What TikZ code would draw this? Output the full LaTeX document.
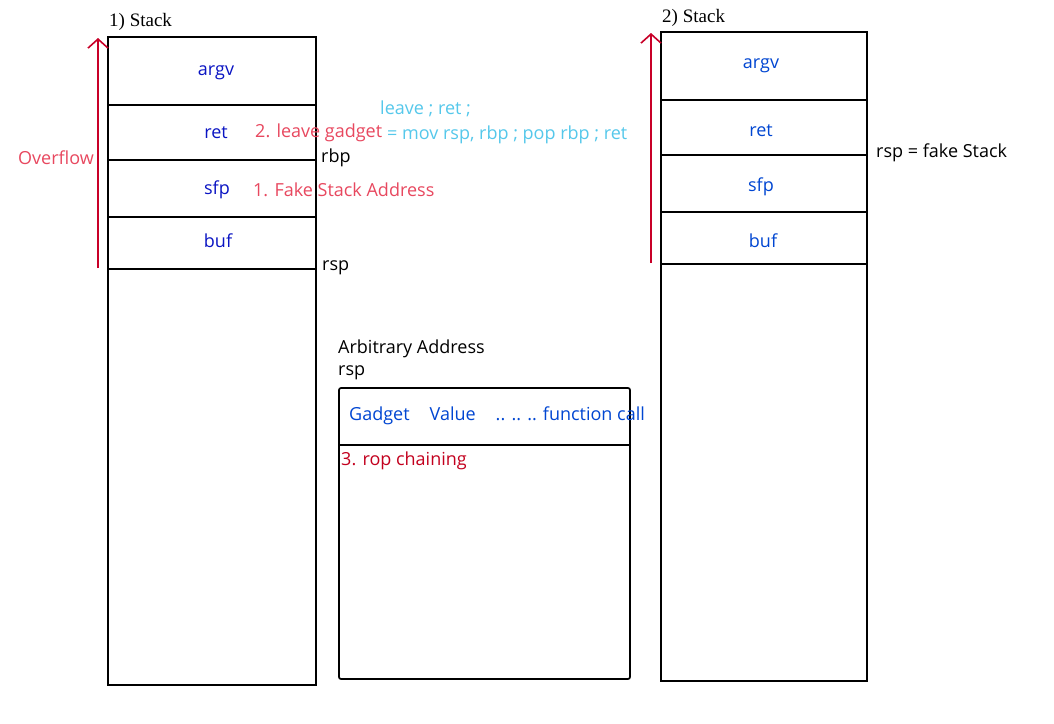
\documentclass[tikz,border=0pt]{standalone}
\usepackage{fontspec}
\usetikzlibrary{arrows.meta}
\newfontfamily\hand{Open Sans}
\newfontfamily\titlefont{Liberation Serif}
\definecolor{lblue}{RGB}{10,20,195}
\definecolor{rblue}{RGB}{0,70,210}
\definecolor{pinkred}{RGB}{232,72,95}
\definecolor{cyanish}{RGB}{85,200,235}
\definecolor{arrred}{RGB}{200,0,40}
\definecolor{ropred}{RGB}{195,0,30}
\tikzset{
  stackbox/.style={draw=black, line width=1.7pt},
  sepline/.style={draw=black, line width=1.7pt},
  lbl/.style={font=\hand\fontsize{18}{20}\selectfont, inner sep=0pt},
  blbl/.style={lbl, text=lblue},
  rlbl/.style={lbl, text=rblue},
  notelbl/.style={lbl, text=pinkred, anchor=west},
  asmlbl/.style={lbl, text=cyanish, anchor=west},
  plainlbl/.style={lbl, text=black, anchor=west},
  titlelbl/.style={font=\titlefont\fontsize{19}{21}\selectfont, inner sep=0pt, anchor=west},
  overflowarrow/.style={draw=arrred, line width=1.6pt, -{Straight Barb[length=9pt,width=20pt,line width=1.6pt]}}
}
\begin{document}
\begin{tikzpicture}[x=1pt,y=-1pt]
\useasboundingbox[fill=white] (0,0) rectangle (1054,723);

% ---- Stack 1 ----
\node[titlelbl] (t1) at (109,22) {1) Stack};
\draw[stackbox] (108,37) rectangle (316,685);
\draw[sepline] (108,105) -- (316,105);
\draw[sepline] (108,160) -- (316,160);
\draw[sepline] (108,217) -- (316,217);
\draw[sepline] (108,269) -- (316,269);
\node[blbl] (a1) at (216,73) {argv};
\node[blbl] (r1) at (216,133) {ret};
\node[blbl] (s1) at (217,190) {sfp};
\node[blbl] (b1) at (218,241) {buf};
\coordinate (o1s) at (98,268);
\coordinate (o1e) at (98,38);
\draw[overflowarrow] (o1s) -- (o1e);
\node[lbl, text=pinkred] (ov) at (56,158) {Overflow};
\node[notelbl] (lg) at (255,133) {2. leave gadget};
\node[notelbl] (fs) at (253,190) {1. Fake Stack Address};
\node[plainlbl] (rbp) at (321,158) {rbp};
\node[plainlbl] (rsp1) at (322,268) {rsp};
\node[asmlbl] (lr) at (380,109) {leave ; ret ;};
\node[asmlbl] (mv) at (387,135) {= mov rsp, rbp ; pop rbp ; ret};

% ---- Arbitrary address box ----
\node[plainlbl] (aa) at (338,349) {Arbitrary Address};
\node[plainlbl] (rsp2) at (338,373) {rsp};
\draw[stackbox, rounded corners=2pt] (339,388) rectangle (630,679);
\draw[sepline] (339,445) -- (630,445);
\node[lbl, text=rblue, anchor=west] (gv) at (349,416) {Gadget\hspace{20pt}Value\hspace{20pt}.. .. ..\hspace{6pt}function call};
\node[lbl, text=ropred, anchor=west] (rop) at (341,461) {3. rop chaining};

% ---- Stack 2 ----
\node[titlelbl] (t2) at (662,18) {2) Stack};
\draw[stackbox] (661,32) rectangle (867,681);
\draw[sepline] (661,100) -- (867,100);
\draw[sepline] (661,155) -- (867,155);
\draw[sepline] (661,212) -- (867,212);
\draw[sepline] (661,264) -- (867,264);
\node[rlbl] (a2) at (761,66) {argv};
\node[rlbl] (r2) at (761,131) {ret};
\node[rlbl] (s2) at (761,187) {sfp};
\node[rlbl] (b2) at (763,241) {buf};
\coordinate (o2s) at (651,263);
\coordinate (o2e) at (651,33);
\draw[overflowarrow] (o2s) -- (o2e);
\node[plainlbl] (fk) at (876,153) {rsp = fake Stack};
\end{tikzpicture}
\end{document}
